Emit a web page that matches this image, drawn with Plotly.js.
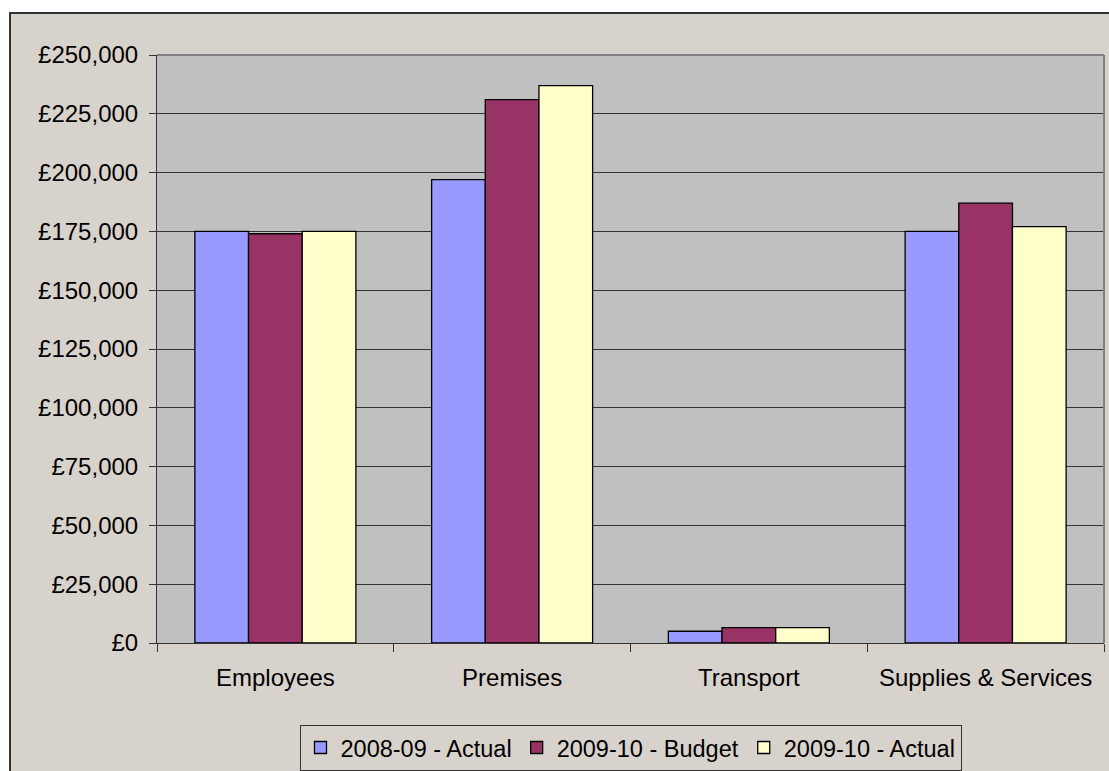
<!DOCTYPE html>
<html>
<head>
<meta charset="utf-8">
<script src="https://cdn.plot.ly/plotly-3.0.1.min.js"></script>
<style>
  html, body { margin: 0; padding: 0; background: #ffffff; }
  #wrap { position: relative; width: 1109px; height: 771px; overflow: hidden; background: #ffffff; }
  #chart { position: absolute; left: 0; top: 0; width: 1109px; height: 771px; }
  .mask { position: absolute; background: #ffffff; }
  .edge { position: absolute; background: #333333; }
</style>
</head>
<body>
<div id="wrap">
  <div id="chart"></div>
  <div class="mask" style="left:0;top:0;width:1109px;height:12px;"></div>
  <div class="mask" style="left:0;top:0;width:9px;height:771px;"></div>
  <div class="edge" style="left:9px;top:12px;width:1100px;height:2px;"></div>
  <div class="edge" style="left:9px;top:12px;width:2px;height:759px;"></div>
</div>
<script>
const categories = ["Employees", "Premises", "Transport", "Supplies & Services"];
const seriesNames = ["2008-09 - Actual", "2009-10 - Budget", "2009-10 - Actual"];
const actual0809 = [175000, 197000, 5000, 175000];
const budget0910 = [174000, 231000, 6500, 187000];
const actual0910 = [175000, 237000, 6500, 177000];
const yTickValues = [0, 25000, 50000, 75000, 100000, 125000, 150000, 175000, 200000, 225000, 250000];
const yTickLabels = ["\u00A30", "\u00A325,000", "\u00A350,000", "\u00A375,000", "\u00A3100,000", "\u00A3125,000",
                     "\u00A3150,000", "\u00A3175,000", "\u00A3200,000", "\u00A3225,000", "\u00A3250,000"];

const colors = ["#9999FF", "#993366", "#FFFFCC"];
const seriesValues = [actual0809, budget0910, actual0910];

const traces = seriesValues.map((vals, i) => ({
  type: "bar",
  name: seriesNames[i],
  x: categories,
  y: vals,
  marker: { color: colors[i], line: { color: "#000000", width: 1.3 } },
  hoverinfo: "x+y+name"
}));

const layout = {
  width: 1109,
  height: 771,
  paper_bgcolor: "#D8D2CC",
  plot_bgcolor: "#C0C0C0",
  margin: { l: 157, r: 5, t: 55, b: 128, pad: 0, autoexpand: false },
  barmode: "group",
  bargap: 0.32,
  bargroupgap: 0,
  font: { family: "Liberation Sans, Arial, sans-serif", size: 24, color: "#000000" },
  xaxis: {
    type: "category",
    automargin: false,
    showgrid: false,
    showline: true,
    linecolor: "#333333",
    linewidth: 1,
    ticks: "outside",
    tickson: "boundaries",
    ticklen: 8,
    tickcolor: "#333333",
    tickwidth: 1,
    tickfont: { size: 24, color: "#000000" },
    ticklabelstandoff: 13,
    zeroline: false
  },
  yaxis: {
    range: [0, 250000],
    automargin: false,
    tickmode: "array",
    tickvals: yTickValues,
    ticktext: yTickLabels,
    showgrid: true,
    gridcolor: "#333333",
    gridwidth: 1,
    showline: true,
    linecolor: "#333333",
    linewidth: 1,
    ticks: "outside",
    ticklen: 7,
    tickcolor: "#333333",
    tickwidth: 1,
    tickfont: { size: 24, color: "#000000" },
    ticklabelstandoff: 6,
    zeroline: false
  },
  shapes: [
    { type: "line", xref: "paper", yref: "paper", x0: 0, x1: 1, y0: 1, y1: 1, line: { color: "#808080", width: 2 } },
    { type: "line", xref: "paper", yref: "paper", x0: 1, x1: 1, y0: 0, y1: 1, line: { color: "#808080", width: 2 } }
  ],
  legend: {
    orientation: "h",
    x: 0.5,
    xanchor: "center",
    y: -0.139,
    yanchor: "top",
    bgcolor: "rgba(0,0,0,0)",
    bordercolor: "#333333",
    borderwidth: 1,
    font: { size: 23.5, color: "#000000" },
    itemwidth: 30,
    traceorder: "normal"
  },
  showlegend: true
};

Plotly.newPlot("chart", traces, layout, { displayModeBar: false, staticPlot: true });
</script>
</body>
</html>
